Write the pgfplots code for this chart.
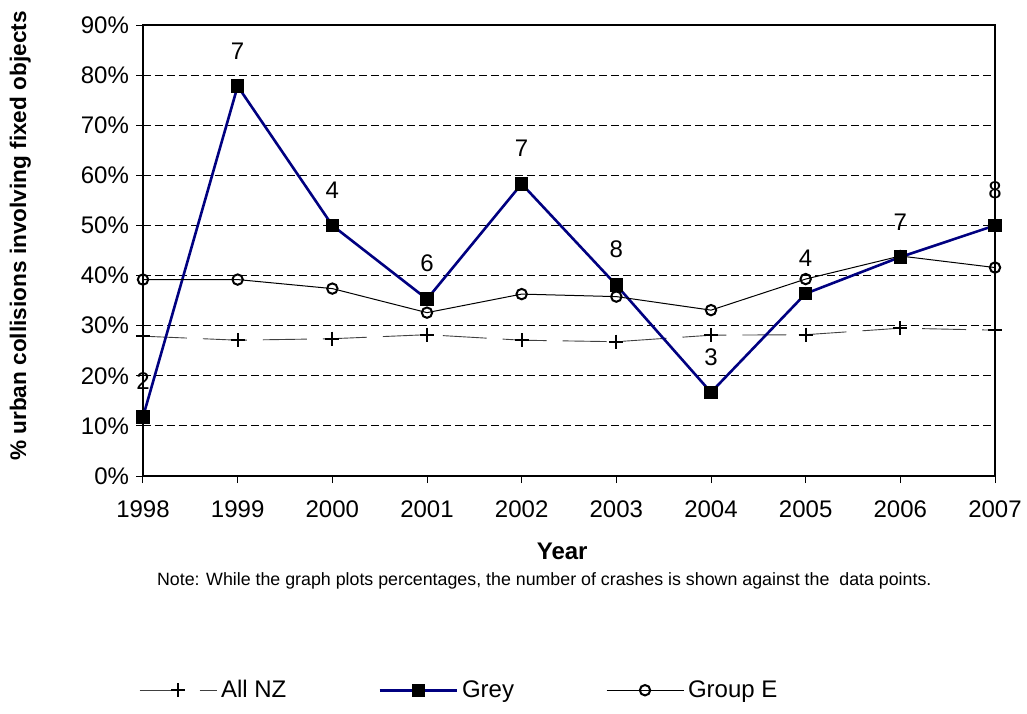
\documentclass[border=0pt]{standalone}
\usepackage{fontspec}
\setmainfont{Liberation Sans}
\usepackage{pgfplots}
\pgfplotsset{compat=1.18}
\usepackage{pgfplotstable}

% values in percent, counts of crashes for Grey as labels
\pgfplotstableread{
year allnz
1998 27.9
1999 27.1
2000 27.4
2001 28.2
2002 27.1
2003 26.8
2004 28.1
2005 28.2
2006 29.5
2007 29.1
}\allnz
\pgfplotstableread{
year grey n
1998 11.8 2
1999 77.8 7
2000 50.0 4
2001 35.3 6
2002 58.3 7
2003 38.1 8
2004 16.7 3
2005 36.4 4
2006 43.7 7
2007 50.0 8
}\grey
\pgfplotstableread{
year groupe
1998 39.2
1999 39.2
2000 37.4
2001 32.6
2002 36.3
2003 35.8
2004 33.1
2005 39.3
2006 43.9
2007 41.6
}\groupe

\definecolor{navyline}{RGB}{0,0,128}

\begin{document}
\begin{tikzpicture}
\useasboundingbox (-71.5pt,-118.5pt) rectangle (442pt,238pt);
\begin{axis}[
  scale only axis,
  width=426pt, height=225.5pt,
  xmin=1998, xmax=2007,
  ymin=0, ymax=90,
  xtick={1998,1999,2000,2001,2002,2003,2004,2005,2006,2007},
  xticklabels={1998,1999,2000,2001,2002,2003,2004,2005,2006,2007},
  ytick={0,10,20,30,40,50,60,70,80,90},
  yticklabels={0\%,10\%,20\%,30\%,40\%,50\%,60\%,70\%,80\%,90\%},
  tick label style={font=\fontsize{12}{14}\selectfont},
  xticklabel style={yshift=-5.5pt},
  xtick pos=bottom, ytick pos=left,
  tick align=outside,
  major tick length=3.5pt,
  every tick/.style={black, line width=0.5pt},
  axis line style={line width=0.6pt},
  ymajorgrids,
  major grid style={black, line width=0.5pt, dash pattern=on 4pt off 2pt},
  xlabel={\bfseries Year},
  xlabel style={font=\fontsize{12}{14}\selectfont, at={(axis description cs:0.492,-0.168)}, anchor=center},
  ylabel={\bfseries \% urban collisions involving fixed objects},
  ylabel style={font=\fontsize{11.3}{13}\selectfont, at={(axis description cs:-0.144,0.532)}, anchor=center},
  legend columns=3,
  legend cell align=left,
  legend style={draw=none, font=\fontsize{12}{14}\selectfont,
    at={(axis description cs:-0.012,-0.475)}, anchor=west,
    /tikz/every even column/.append style={column sep=44pt}},
  legend image code/.code={\draw[mark repeat=2,mark phase=2,#1] plot coordinates {(0pt,0pt) (19.25pt,0pt) (38.5pt,0pt)};},
  clip=false,
]
\addplot[black!75, line width=0.45pt, dash pattern=on 22pt off 8pt,
  mark=+, mark size=3.5pt, mark options={black, solid, line width=1.1pt}]
  table[x=year, y=allnz] {\allnz};
\addlegendentry{All NZ}
\addplot[navyline, line width=1.3pt,
  mark=square*, mark size=2.7pt, mark options={black, fill=black, solid},
  nodes near coords, point meta=explicit symbolic,
  every node near coord/.append style={black, anchor=south, yshift=9.5pt, font=\fontsize{12}{14}\selectfont}]
  table[x=year, y=grey, meta=n] {\grey};
\addlegendentry{Grey}
\addplot[black, line width=0.5pt,
  mark=o, mark size=2.6pt, mark options={black, line width=1pt, fill=white}]
  table[x=year, y=groupe] {\groupe};
\addlegendentry{Group E}
\node[font=\fontsize{8.9}{11}\selectfont, anchor=center] at (axis description cs:0.471,-0.233)
  {Note: While the graph plots percentages, the number of crashes is shown against the\ \ data points.};
\end{axis}
\end{tikzpicture}
\end{document}
